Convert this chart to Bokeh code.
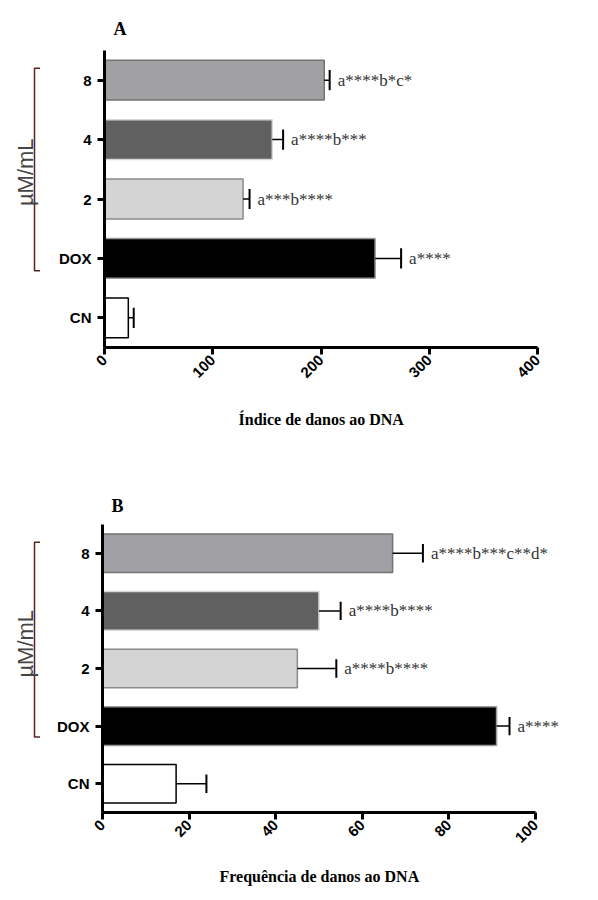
import math
from bokeh.plotting import figure
from bokeh.models import FactorRange, Range1d, FixedTicker, ColumnDataSource, LabelSet, Title
from bokeh.layouts import column, row
from bokeh.transform import dodge
from bokeh.embed import file_html
from bokeh.resources import INLINE
from bokeh.core.properties import value

# ---------------- data ----------------
categories = ["CN", "DOX", "2", "4", "8"]
bar_fill = ["#ffffff", "#000000", "#d4d4d4", "#606060", "#a1a0a5"]
bar_line = ["#000000", "#9a9a9a", "#8a8a8a", "#d8d8d8", "#737373"]

a_values = [22, 250, 128, 155, 203]
a_errors = [5, 24, 6, 10, 5]
a_labels = ["", "a****", "a***b****", "a****b***", "a****b*c*"]
a_ticks = [0, 100, 200, 300, 400]
a_xlabel = "Índice de danos ao DNA"

b_values = [17, 91, 45, 50, 67]
b_errors = [7, 3, 9, 5, 7]
b_labels = ["", "a****", "a****b****", "a****b****", "a****b***c**d*"]
b_ticks = [0, 20, 40, 60, 80, 100]
b_xlabel = "Frequência de danos ao DNA"

group_label = "µM/mL"

SERIF = "Liberation Serif"
SANS = "Liberation Sans"
AXIS_PX = 433  # pixel length of the drawn x axis (0 .. last tick)


def panel(title, vals, errs, labs, ticks, xlabel, width, height,
          left, top, bottom, cap, title_standoff, xlabel_offset, xlabel_standoff):
    src = ColumnDataSource(dict(
        cat=categories, val=vals,
        err=[v + e for v, e in zip(vals, errs)],
        lab=labs, fill=bar_fill, line=bar_line))
    frame_px = width - left
    x_end = ticks[-1] * frame_px / AXIS_PX
    p = figure(width=width, height=height,
               y_range=FactorRange(factors=categories, range_padding=0),
               x_range=Range1d(0, x_end),
               output_backend="svg", toolbar_location=None,
               min_border_left=left, min_border_right=0,
               min_border_top=top, min_border_bottom=bottom,
               background_fill_color="white", border_fill_color="white")
    p.outline_line_color = None
    p.xgrid.visible = False
    p.ygrid.visible = False

    p.hbar(y="cat", left=0, right="val", height=0.67, fill_color="fill",
           line_color="line", line_width=1.5, source=src)
    p.segment(x0="val", y0="cat", x1="err", y1="cat", line_color="black",
              line_width=1.5, source=src)
    p.segment(x0="err", y0=dodge("cat", -cap, range=p.y_range),
              x1="err", y1=dodge("cat", cap, range=p.y_range),
              line_color="black", line_width=2, source=src)
    p.add_layout(LabelSet(x="err", y="cat", text="lab", x_offset=8,
                          text_baseline="middle", text_font=value(SERIF),
                          text_font_size="17px", text_color="#333333",
                          source=src))

    p.title.text = title
    p.title.text_font = SERIF
    p.title.text_font_style = "bold"
    p.title.text_font_size = "18px"
    p.title.text_color = "black"
    p.title.offset = 9
    p.title.standoff = title_standoff

    xa = p.xaxis[0]
    xa.bounds = (0, ticks[-1])
    xa.ticker = FixedTicker(ticks=ticks)
    xa.major_label_orientation = math.pi / 4
    xa.axis_line_width = 3
    xa.major_tick_line_width = 3
    xa.major_tick_out = 7
    xa.major_tick_in = 0
    xa.minor_tick_line_color = None
    xa.major_label_text_font = SANS
    xa.major_label_text_font_style = "bold"
    xa.major_label_text_font_size = "15px"
    xa.major_label_text_color = "black"
    xa.major_label_standoff = 3

    # axis title, centred under the drawn axis (0 .. last tick)
    p.add_layout(Title(text=xlabel, align="left", offset=xlabel_offset,
                       standoff=xlabel_standoff, text_font=SERIF,
                       text_font_style="bold", text_font_size="16px",
                       text_line_height=1.0, text_color="black"), "below")

    ya = p.yaxis[0]
    ya.axis_line_width = 3
    ya.major_tick_line_width = 3
    ya.major_tick_out = 7
    ya.major_tick_in = 0
    ya.major_label_text_font = SANS
    ya.major_label_text_font_style = "bold"
    ya.major_label_text_font_size = "15px"
    ya.major_label_text_color = "black"
    ya.major_label_standoff = 6
    return p


def bracket(height, top, bottom, ytop, ybot, ymid):
    q = figure(width=40, height=height, x_range=Range1d(0, 40),
               y_range=Range1d(0, 5), min_border_left=0, min_border_right=0,
               min_border_top=top, min_border_bottom=bottom,
               output_backend="svg", toolbar_location=None,
               x_axis_location=None, y_axis_location=None,
               background_fill_color="white", border_fill_color="white")
    q.outline_line_color = None
    for g in q.grid:
        g.visible = False
    q.line(x=[40, 34, 34, 40], y=[ytop, ytop, ybot, ybot],
           line_color="#5c2222", line_width=1.5)
    q.text(x=[25], y=[ymid], text=[group_label], angle=math.pi / 2,
           text_align="center", text_baseline="middle",
           text_font=value(SANS), text_font_size="22px", text_color="#444444")
    return q


pA = panel("A", a_values, a_errors, a_labels, a_ticks, a_xlabel,
           558, 450, 64, 50, 102, 0.17, 24, 134, 46)
pB = panel("B", b_values, b_errors, b_labels, b_ticks, b_xlabel,
           558, 450, 62, 74, 88, 0.16, 18, 117, 30)
qA = bracket(450, 50, 102, 4.70, 1.29, 2.95)
qB = bracket(450, 74, 88, 4.69, 1.31, 2.93)

layout = column(row(qA, pA, spacing=0), row(qB, pB, spacing=0), spacing=0)

open("out.html", "w").write(file_html(layout, INLINE))
